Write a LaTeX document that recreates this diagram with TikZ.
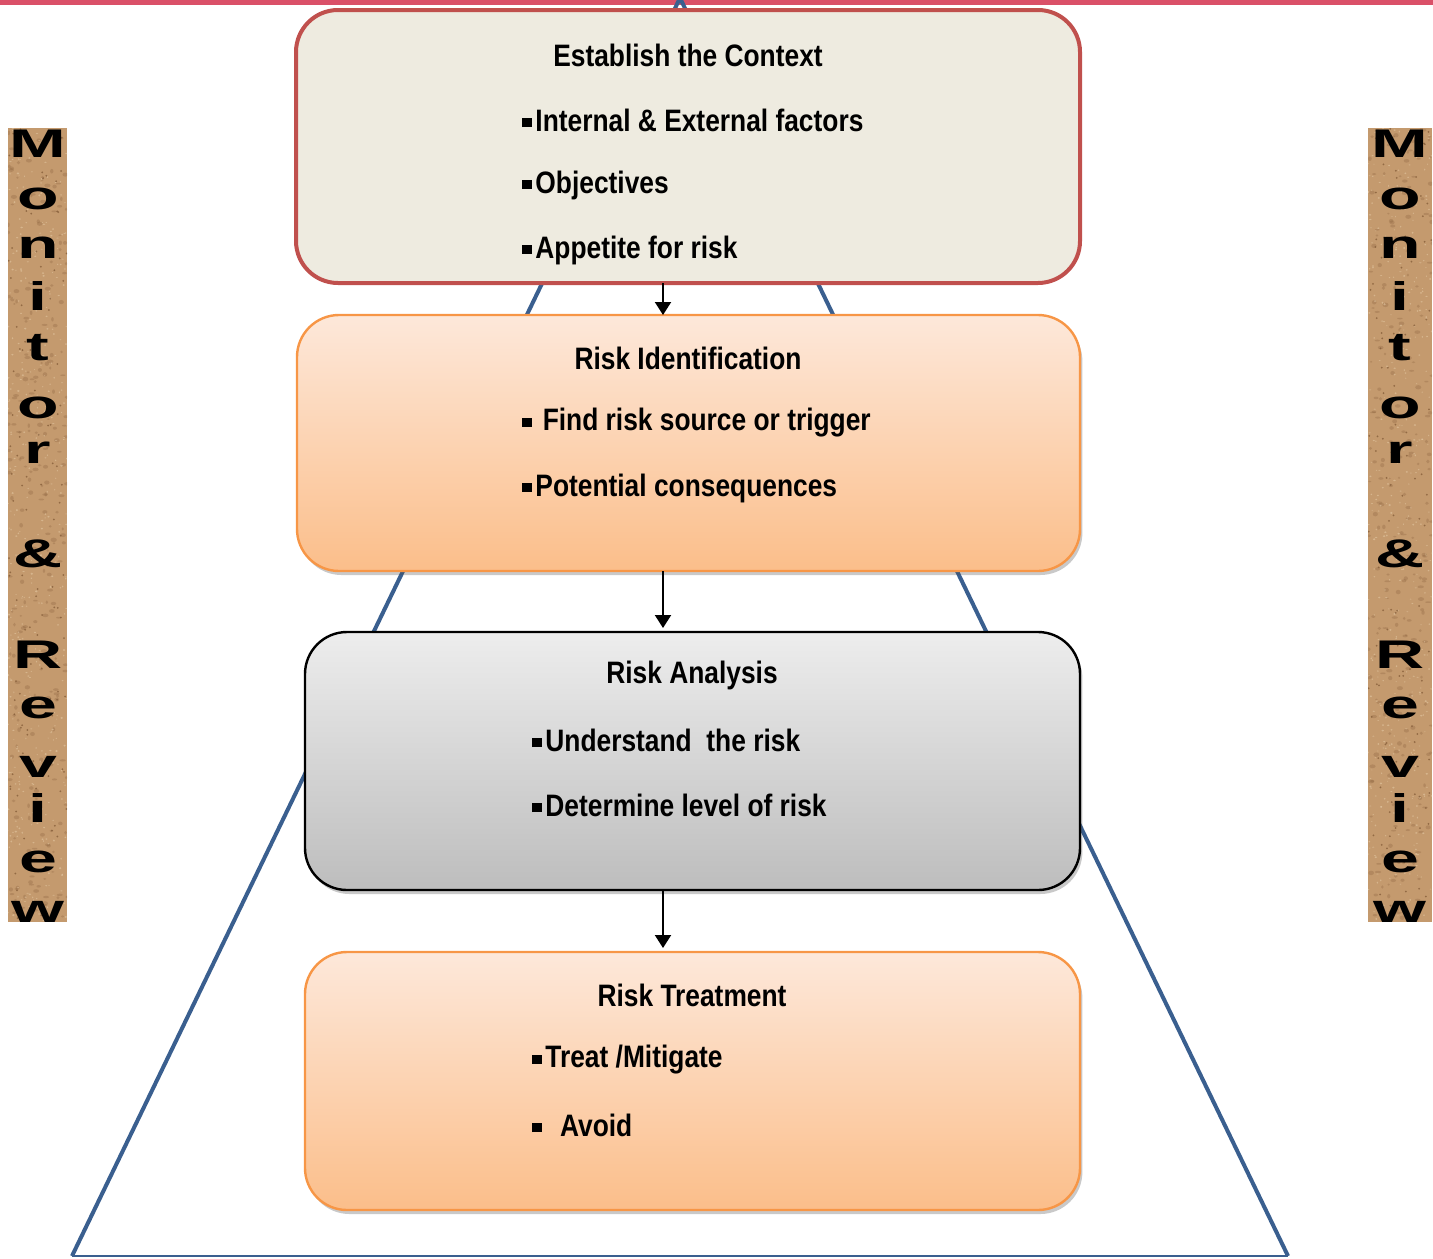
\documentclass[tikz,border=0pt]{standalone}
\usepackage{fontspec}
\setmainfont{Liberation Sans}[FakeStretch=0.85]
\newfontfamily\sidefont{Liberation Sans}
\usetikzlibrary{arrows.meta,shadows,calc}
\definecolor{ctxfill}{HTML}{EEEBE0}
\definecolor{ctxline}{HTML}{C0504D}
\definecolor{orgline}{HTML}{F79646}
\definecolor{orgtop}{HTML}{FDE8DA}
\definecolor{orgbot}{HTML}{FBBE8A}
\definecolor{graytop}{HTML}{EDEDED}
\definecolor{graybot}{HTML}{BDBDBD}
\definecolor{triline}{HTML}{3A5F8F}
\definecolor{bandcol}{HTML}{DA5068}
\definecolor{corkbase}{HTML}{C49A6E}
\definecolor{corklight}{HTML}{E3C7A2}
\definecolor{corkdark}{HTML}{7E5633}
\newcommand\sqbul{\raisebox{0.13em}{\rule{0.3em}{0.3em}}\hspace{0.12em}}
\tikzset{
  boxbase/.style={rectangle, rounded corners=21pt, inner sep=0pt, outer sep=0pt},
  ctxbox/.style={boxbase, draw=ctxline, line width=2pt, fill=ctxfill},
  orgbox/.style={boxbase, draw=orgline, line width=1.2pt, top color=orgtop, bottom color=orgbot,
     drop shadow={shadow xshift=1.2pt, shadow yshift=-2pt, opacity=0.3, fill=black!70}},
  graybox/.style={boxbase, draw=black, line width=1.2pt, top color=graytop, bottom color=graybot,
     drop shadow={shadow xshift=1.2pt, shadow yshift=-2pt, opacity=0.3, fill=black!70}},
  ttl/.style={font=\fontsize{15.5}{18}\selectfont\bfseries, inner sep=0pt, anchor=center},
  itm/.style={font=\fontsize{15.5}{18}\selectfont\bfseries, inner sep=0pt, anchor=west},
  arr/.style={line width=1pt, -{Triangle[length=6.5pt,width=8pt]}},
  sidelet/.style={font=\sidefont\fontsize{20}{20}\selectfont\bfseries, inner sep=0pt, anchor=base, xscale=1.7},
  triedge/.style={draw=triline, line width=2pt, line join=miter},
}
\begin{document}
\begin{tikzpicture}[x=0.5pt,y=-0.5pt]
\useasboundingbox (0,0) rectangle (1433,1258);
% top band
\fill[bandcol] (0,0) rectangle (1433,5);
% triangle
\coordinate (apex) at (680,-2);
\coordinate (bl) at (72,1256);
\coordinate (br) at (1288,1256);
\draw[triedge] (bl) -- (apex) -- (br);
\draw[draw=triline, line width=1.1pt] (bl) -- (br);
% side bars (cork texture)
\pgfmathsetseed{42}
\foreach \bx/\bw in {8/59,1368/64}{
  \begin{scope}
  \clip (\bx,128) rectangle ({\bx+\bw},922);
  \fill[corkbase] (\bx,128) rectangle ({\bx+\bw},922);
  \foreach \k in {1,...,260}{
    \fill[corkdark, opacity=0.25] ({\bx+\bw*rnd},{128+794*rnd}) ellipse ({1.2+2*rnd} and {0.8+1.5*rnd});
  }
  \foreach \k in {1,...,450}{
    \fill[corklight, opacity=0.6] ({\bx+\bw*rnd},{128+794*rnd}) ellipse ({0.5+0.9*rnd} and {0.4+0.7*rnd});
  }
  \foreach \k in {1,...,120}{
    \fill[corkdark, opacity=0.7] ({\bx+\bw*rnd},{128+794*rnd}) circle (0.5pt);
  }
  \end{scope}
}
\foreach \cx in {38,1400}{
  \foreach \lt/\yb [count=\n] in {M/157,o/209,n/258,i/310,t/360,o/418,r/463,\&/567,R/668,e/718,v/777,i/822,e/872,w/922}{
    \node[sidelet] (s\cx-\n) at (\cx,\yb) {\lt};
  }
}
% boxes
\node[ctxbox, minimum width=392pt, minimum height=136.5pt] (b1) at (688,146.5) {};
\node[orgbox, minimum width=391.5pt, minimum height=128pt] (b2) at (688.5,443) {};
\node[graybox, minimum width=387.5pt, minimum height=129pt] (b3) at (692.5,761) {};
\node[orgbox, minimum width=387.5pt, minimum height=129pt] (b4) at (692.5,1081) {};
% texts
\node[ttl] (t1) at (688,55) {Establish the Context};
\node[itm] (t1a) at (522,120) {\sqbul Internal \& External factors};
\node[itm] (t1b) at (522,185) {\sqbul Objectives};
\node[itm] (t1c) at (522,250) {\sqbul Appetite for risk};
\node[ttl] (t2) at (688,358) {Risk Identification};
\node[itm] (t2a) at (522,423) {\sqbul\ Find risk source or trigger};
\node[itm] (t2b) at (522,488) {\sqbul Potential consequences};
\node[ttl] (t3) at (692,675) {Risk Analysis};
\node[itm] (t3a) at (532,740) {\sqbul Understand\ \ the risk};
\node[itm] (t3b) at (532,805) {\sqbul Determine level of risk};
\node[ttl] (t4) at (692,995) {Risk Treatment};
\node[itm] (t4a) at (532,1060) {\sqbul Treat /Mitigate};
\node[itm] (t4b) at (532,1125) {\sqbul\ \ Avoid};
% arrows
\coordinate (ax) at (663,0);
\draw[arr] (b1.south -| ax) -- (b2.north -| ax);
\draw[arr] (b2.south -| ax) -- ($(b3.north -| ax)+(0,-4)$);
\draw[arr] (b3.south -| ax) -- ($(b4.north -| ax)+(0,-4)$);
\end{tikzpicture}
\end{document}
